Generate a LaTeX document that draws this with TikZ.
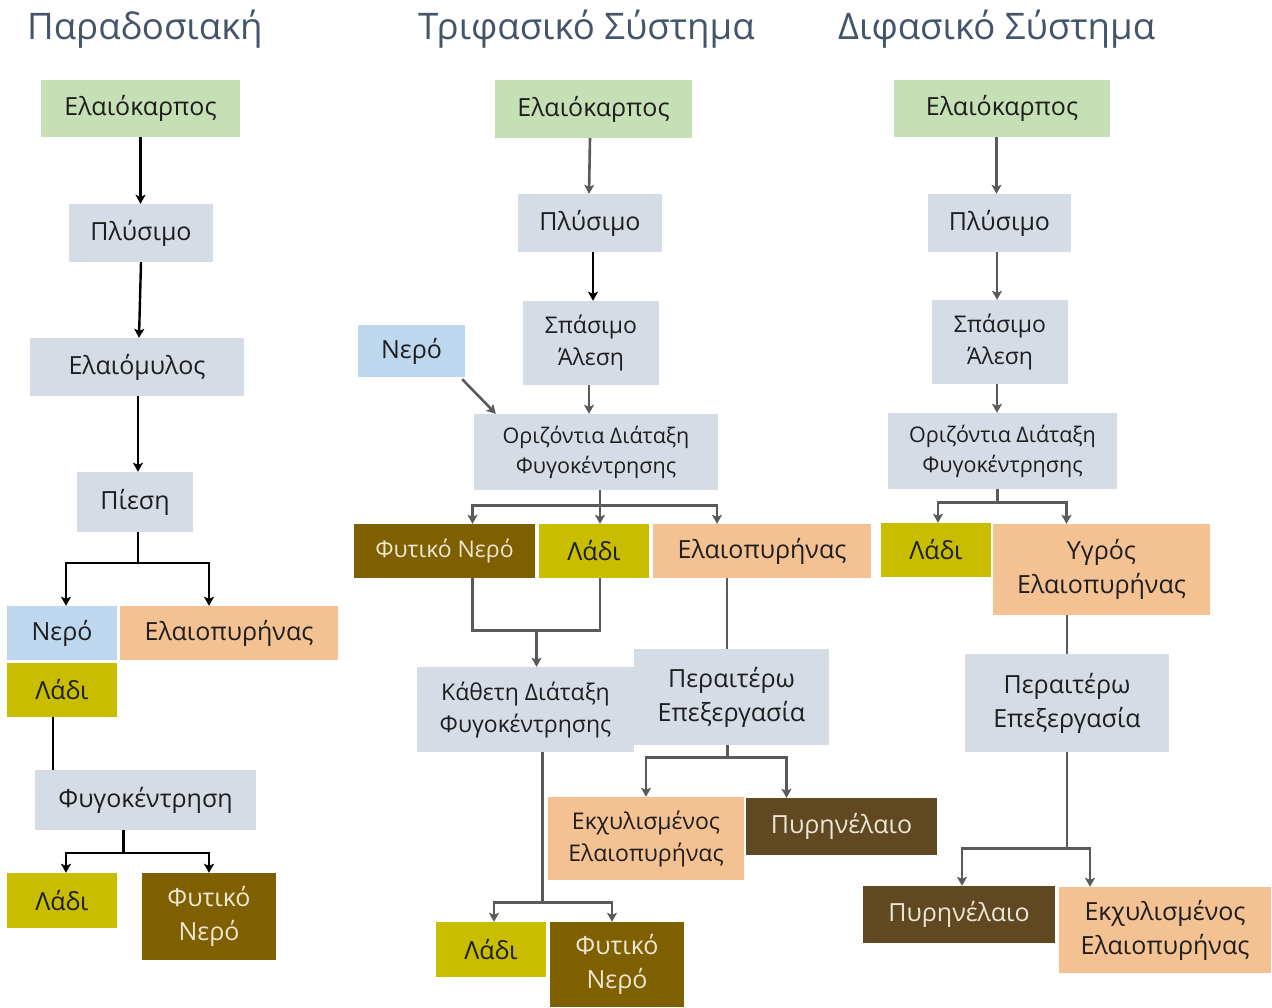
\documentclass[tikz,border=0pt]{standalone}
\usepackage{fontspec}
\setmainfont{Open Sans}
\usetikzlibrary{arrows.meta}
\definecolor{Leaf}{HTML}{C5E0B4}
\definecolor{Slate}{HTML}{D6DCE5}
\definecolor{Sky}{HTML}{BDD7EE}
\definecolor{Peach}{HTML}{F4C192}
\definecolor{Olive}{HTML}{C9BD00}
\definecolor{Mud}{HTML}{7F6000}
\definecolor{Bark}{HTML}{604821}
\definecolor{Ink}{HTML}{1E1E1E}
\definecolor{Cream}{HTML}{EDE6D6}
\definecolor{TitleGray}{HTML}{44546A}
\definecolor{Wire}{HTML}{5A5A5A}

\begin{document}
\begin{tikzpicture}[x=1pt, y=-1pt,
  box/.style={inner sep=0pt, align=center, text=Ink, font=\fontsize{25}{34}\selectfont},
  small/.style={font=\fontsize{23}{32}\selectfont},
  tiny/.style={font=\fontsize{21.5}{30}\selectfont},
  dark/.style={text=Cream},
  dims/.style 2 args={minimum width=#1pt, minimum height=#2pt},
  heading/.style={anchor=base west, inner sep=0pt, text=TitleGray, font=\fontsize{36.6}{40}\selectfont},
  >={Stealth[length=9pt,width=10pt,inset=2pt]},
  wirek/.style={line width=2.4pt, black},
  flowk/.style={wirek, ->},
  wire/.style={line width=2.6pt, Wire},
  flow/.style={wire, ->}]
  \useasboundingbox (0,0) rectangle (1272,1007);

  % titles
  \node[heading] (t1) at (27,39) {Παραδοσιακή};
  \node[heading] (t2) at (418,39) {Τριφασικό Σύστημα};
  \node[heading] (t3) at (838,39) {Διφασικό Σύστημα};

  % traditional
  \node[box, fill=Leaf, dims={199}{57}] (elaio1) at (140.5,108.5) {Ελαιόκαρπος};
  \node[box, fill=Slate, dims={144}{58}] (plys1) at (141,233) {Πλύσιμο};
  \node[box, fill=Slate, dims={214}{58}] (mylos) at (137,367) {Ελαιόμυλος};
  \node[box, fill=Slate, dims={116}{60}] (piesi) at (135,502) {Πίεση};
  \node[box, fill=Sky, dims={110}{54}] (nero1) at (62,633) {Νερό};
  \node[box, fill=Peach, dims={218}{54}] (elaiop1) at (229,633) {Ελαιοπυρήνας};
  \node[box, fill=Olive, dims={110}{54}] (ladi1) at (62,690) {Λάδι};
  \node[box, fill=Slate, dims={221}{60}] (fygo1) at (145.5,800) {Φυγοκέντρηση};
  \node[box, fill=Olive, dims={110}{55}] (ladi1b) at (62,900.5) {Λάδι};
  \node[box, dark, fill=Mud, dims={134}{87}] (fyt1) at (209,916.5) {Φυτικό\\Νερό};

  \draw[flowk] (elaio1.south) -- (elaio1.south |- plys1.north);
  \draw[flowk] (plys1.south) -- ([xshift=-2pt]plys1.south |- mylos.north);
  \draw[flowk] ([xshift=1pt]mylos.south) -- ([xshift=1pt]mylos.south |- piesi.north);
  \draw[wirek] ([xshift=3pt]piesi.south) -- ++(0,31) coordinate (s1);
  \draw[flowk] (s1) -| ([xshift=4pt]nero1.north);
  \draw[flowk] (s1) -| ([xshift=-20pt]elaiop1.north);
  \draw[wirek] ([xshift=-9pt]ladi1.south) -- ([xshift=-9pt]ladi1.south |- fygo1.north);
  \draw[wirek] ([xshift=-22pt]fygo1.south) -- ++(0,23) coordinate (s2);
  \draw[flowk] (s2) -| ([xshift=4pt]ladi1b.north);
  \draw[flowk] (s2) -| (fyt1.north);

  % three-phase
  \node[box, fill=Leaf, dims={197}{58}] (elaio2) at (593.5,109) {Ελαιόκαρπος};
  \node[box, fill=Slate, dims={144}{58}] (plys2) at (590,223) {Πλύσιμο};
  \node[box, small, fill=Slate, dims={136}{84}] (spas2) at (591,343) {Σπάσιμο\\Άλεση};
  \node[box, fill=Sky, dims={107}{52}] (nero2) at (411.5,351) {Νερό};
  \node[box, tiny, fill=Slate, dims={244}{76}] (oriz2) at (596,452) {Οριζόντια Διάταξη\\Φυγοκέντρησης};
  \node[box, small, dark, fill=Mud, dims={181}{54}] (fytn2) at (444.5,551) {Φυτικό Νερό};
  \node[box, fill=Olive, dims={110}{54}] (ladi2) at (594,551) {Λάδι};
  \node[box, fill=Peach, dims={218}{54}] (elaiop2) at (762,551) {Ελαιοπυρήνας};
  \node[box, small, fill=Slate, dims={217}{85}] (kath2) at (525.5,709.5) {Κάθετη Διάταξη\\Φυγοκέντρησης};
  \node[box, fill=Slate, dims={195}{96}] (perait2) at (731.5,697) {Περαιτέρω\\Επεξεργασία};
  \node[box, small, fill=Peach, dims={196}{83}] (ekx2) at (646,838.5) {Εκχυλισμένος\\Ελαιοπυρήνας};
  \node[box, dark, fill=Bark, dims={191}{57}] (pyr2) at (841.5,826.5) {Πυρηνέλαιο};
  \node[box, fill=Olive, dims={110}{55}] (ladi2b) at (491,949.5) {Λάδι};
  \node[box, dark, fill=Mud, dims={134}{85}] (fyt2b) at (617,964.5) {Φυτικό\\Νερό};

  \draw[flow] (plys2.north |- elaio2.south) -- ([xshift=-1pt]plys2.north);
  \draw[flowk] ([xshift=2pt]spas2.north |- plys2.south) -- ([xshift=2pt]spas2.north);
  \draw[flow] ([xshift=-2pt]spas2.south) -- ([xshift=-2pt]spas2.south |- oriz2.north);
  \draw[flow] ([shift={(-3pt,-2pt)}]nero2.south east) -- ([xshift=22pt]oriz2.north west);
  \draw[wire] ([xshift=4pt]oriz2.south) -- ++(0,15) coordinate (s3);
  \draw[flow] (s3) -| ([xshift=28pt]fytn2.north);
  \draw[flow] (s3) -- (s3 |- ladi2.north);
  \draw[flow] (s3) -| ([xshift=-45pt]elaiop2.north);
  \draw[wire] ([xshift=28pt]fytn2.south) -- ++(0,52) coordinate (m1) -| ([xshift=6pt]ladi2.south);
  \draw[flow] ([xshift=11pt]kath2.north |- m1) -- ([xshift=11pt]kath2.north);
  \draw[wire] ([xshift=-35pt]elaiop2.south) -- ([xshift=-35pt]elaiop2.south |- perait2.north);
  \draw[wire] ([xshift=-4pt]perait2.south) -- ++(0,12) coordinate (s4);
  \draw[flow] (s4) -| (ekx2.north);
  \draw[flow] (s4) -| ([xshift=-55pt]pyr2.north);
  \draw[wire] ([xshift=17pt]kath2.south) -- ++(0,150) coordinate (s5);
  \draw[flow] (s5) -| ([xshift=3pt]ladi2b.north);
  \draw[flow] (s5) -| ([xshift=-5pt]fyt2b.north);

  % two-phase
  \node[box, fill=Leaf, dims={216}{57}] (elaio3) at (1002,108.5) {Ελαιόκαρπος};
  \node[box, fill=Slate, dims={143}{58}] (plys3) at (999.5,223) {Πλύσιμο};
  \node[box, small, fill=Slate, dims={136}{84}] (spas3) at (1000,342) {Σπάσιμο\\Άλεση};
  \node[box, tiny, fill=Slate, dims={229}{76}] (oriz3) at (1002.5,451) {Οριζόντια Διάταξη\\Φυγοκέντρησης};
  \node[box, fill=Olive, dims={110}{54}] (ladi3) at (936,550) {Λάδι};
  \node[box, fill=Peach, dims={217}{91}] (ygros3) at (1101.5,569.5) {Υγρός\\Ελαιοπυρήνας};
  \node[box, fill=Slate, dims={204}{98}] (perait3) at (1067,703) {Περαιτέρω\\Επεξεργασία};
  \node[box, dark, fill=Bark, dims={192}{57}] (pyr3) at (959,914.5) {Πυρηνέλαιο};
  \node[box, fill=Peach, dims={212}{86}] (ekx3) at (1165,930) {Εκχυλισμένος\\Ελαιοπυρήνας};

  \draw[flow] ([xshift=-3pt]plys3.north |- elaio3.south) -- ([xshift=-3pt]plys3.north);
  \draw[flow] ([xshift=-3pt]spas3.north |- plys3.south) -- ([xshift=-3pt]spas3.north);
  \draw[flow] ([xshift=-3pt]spas3.south) -- ([xshift=-3pt]spas3.south |- oriz3.north);
  \draw[wire] ([xshift=-5pt]oriz3.south) -- ++(0,13) coordinate (s6);
  \draw[flow] (s6) -| ([xshift=2pt]ladi3.north);
  \draw[flow] (s6) -| ([xshift=-35pt]ygros3.north);
  \draw[wire] (perait3.north |- ygros3.south) -- (perait3.north);
  \draw[wire] (perait3.south) -- ++(0,96) coordinate (s7);
  \draw[flow] (s7) -| ([xshift=3pt]pyr3.north);
  \draw[flow] (s7) -| ([xshift=-75pt]ekx3.north);
\end{tikzpicture}
\end{document}
